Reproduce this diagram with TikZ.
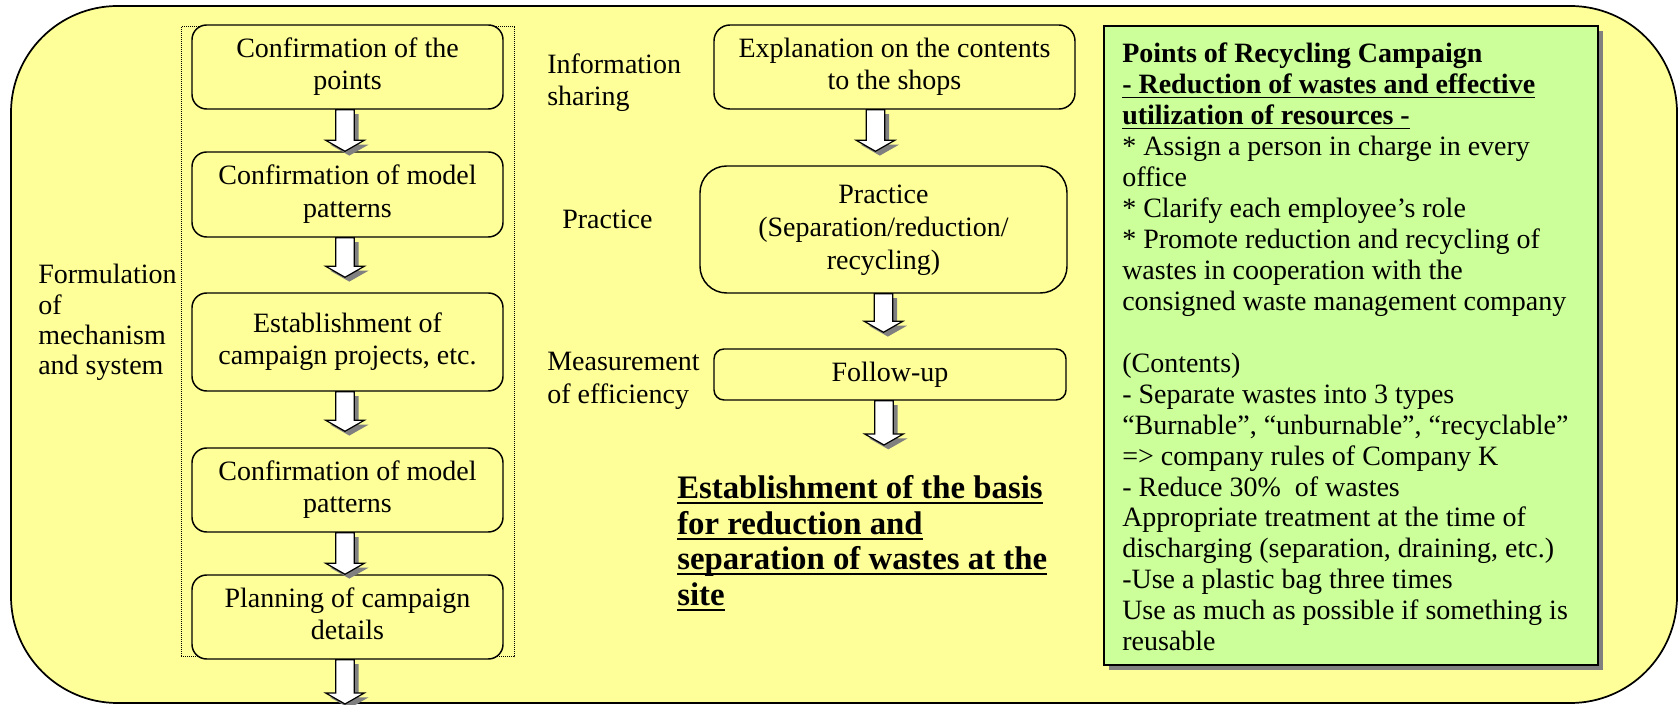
\documentclass[tikz,border=0pt]{standalone}
\usepackage{fontspec}
\setmainfont{Liberation Serif}
\usetikzlibrary{calc,shadows}

\definecolor{paleyellow}{RGB}{255,255,153}
\definecolor{palegreen}{RGB}{204,255,153}
\definecolor{shadowgray}{RGB}{128,128,128}

% multi-line text whose baseline is that of its first line
\newcommand\stack[2]{\begin{tabular}[t]{@{}#1@{}}#2\end{tabular}}
\newcommand\cstack[1]{\begin{tabular}{@{}c@{}}#1\end{tabular}}

% underline at a fixed depth below the baseline
\newdimen\ulpos \ulpos=2.5pt
\newdimen\ulthk \ulthk=1.4pt
\newcommand\uln[1]{\setbox0\hbox{#1}%
  \rlap{\vrule width \wd0 height -\ulpos depth \dimexpr\ulpos+\ulthk\relax}\box0}

% hollow block arrow with a grey drop shadow, from a start point down to a tip
\newcommand\blockarrow[2]{%
  \fill[shadowgray] let \p1=#1, \p2=#2 in
    (\x1-3.25pt,\y1-3.25pt) -- (\x1+10.25pt,\y1-3.25pt) -- (\x1+10.25pt,\y2+5pt)
    -- (\x1+17.75pt,\y2+5pt) -- (\x1+3.25pt,\y2-3.25pt) -- (\x1-11.25pt,\y2+5pt)
    -- (\x1-3.75pt,\y2+5pt) -- cycle;
  \filldraw[fill=white, draw=black, line width=0.9pt] let \p1=#1, \p2=#2 in
    (\x1-7pt,\y1) -- (\x1+7pt,\y1) -- (\x1+7pt,\y2+8.25pt) -- (\x1+14.5pt,\y2+8.25pt)
    -- (\x1,\y2) -- (\x1-14.5pt,\y2+8.25pt) -- (\x1-7pt,\y2+8.25pt) -- cycle;
}

\tikzset{
  stepbox/.style={draw=black, line width=1.1pt, fill=paleyellow, inner sep=0pt,
    rounded corners=11pt, font=\fontsize{21}{24.2}\selectfont},
  size/.style 2 args={minimum width=#1*0.75pt, minimum height=#2*0.75pt},
  label/.style={anchor=base west, inner sep=0pt, font=\fontsize{21}{24}\selectfont},
}

\begin{document}
\begin{tikzpicture}[x=0.75pt, y=-0.75pt]
\useasboundingbox (0,0) rectangle (1679,705);

% outer frame
\draw[fill=paleyellow, line width=1.3pt, rounded corners=80pt] (11,6) rectangle (1677,703);

% grouping frame of the left column
\draw[line width=0.75pt, dash pattern=on 0.75pt off 0.75pt] (181,27) rectangle (514,657);

% left column
\node[stepbox, size={311}{84}] (b1) at (347.5,67) {\cstack{Confirmation of the\\points}};
\node[stepbox, size={311}{85}] (b2) at (347.5,194.5) {\cstack{Confirmation of model\\patterns}};
\node[stepbox, size={311}{98}] (b3) at (347.5,342) {\cstack{Establishment of\\campaign projects, etc.}};
\node[stepbox, size={311}{84}] (b4) at (347.5,490) {\cstack{Confirmation of model\\patterns}};
\node[stepbox, size={311}{84}] (b5) at (347.5,617) {\cstack{Planning of campaign\\details}};
\coordinate (b5end) at (345,704);

\node[label, font=\fontsize{21}{22.7}\selectfont] (lform) at (38,284)
  {\stack{l}{Formulation\\of\\mechanism\\and system}};

% middle column
\node[stepbox, rounded corners=12pt, size={361}{84}] (m1) at (894.5,67)
  {\cstack{Explanation on the contents\\to the shops}};
\node[stepbox, rounded corners=20pt, size={367}{127}, font=\fontsize{21}{24.75}\selectfont] (m2)
  at (883.5,229.5) {\cstack{Practice\\(Separation/reduction/\\recycling)}};
\node[stepbox, rounded corners=7.5pt, size={352}{51}] (m3) at (890,374.5) {Follow-up};
\coordinate (m3end) at (884,445);

\node[label] (linfo) at (547,74) {\stack{l}{Information\\sharing}};
\node[label] (lprac) at (562,229) {Practice};
\node[label, font=\fontsize{21}{24.7}\selectfont] (lmeas) at (547,371)
  {\stack{l}{Measurement\\of efficiency}};

\node[label, font=\bfseries\fontsize{24.6}{26.6}\selectfont] (result) at (677,499)
  {\stack{l}{\uln{Establishment of the basis}\\
   \uln{for reduction and}\\ \uln{separation of wastes at the}\\ \uln{site}}};

% connectors
\blockarrow{($(b1.south)+(-2.5,0)$)}{(b2.north)}
\blockarrow{($(b2.south)+(-2.5,0)$)}{($(b3.north)+(0,-15)$)}
\blockarrow{($(b3.south)+(-2.5,0)$)}{($(b4.north)+(0,-16)$)}
\blockarrow{($(b4.south)+(-2.5,0)$)}{(b5.north)}
\blockarrow{($(b5.south)+(-2.5,0)$)}{(b5end)}
\blockarrow{($(m1.south)+(-19,0)$)}{($(m2.north)+(0,-14)$)}
\blockarrow{(m2.south)}{($(m3.north)+(0,-16)$)}
\blockarrow{($(m3.south)+(-6,0)$)}{(m3end)}

% campaign points
\node[draw=black, line width=1pt, fill=palegreen, inner sep=0pt, size={494}{639},
  drop shadow={shadow xshift=3.75pt, shadow yshift=-3.75pt, fill=shadowgray, opacity=1}]
  (pts) at (1351,345.5) {};
\node[label, font=\fontsize{21}{23.2}\selectfont] (ptstext) at (1122,63)
  {\ulpos=2.2pt\ulthk=1pt\stack{l}{\textbf{Points of Recycling Campaign}\\
   \textbf{\uln{- Reduction of wastes and effective}}\\
   \textbf{\uln{utilization of resources -}}\\
   {*} Assign a person in charge in every\\
   office\\
   {*} Clarify each employee’s role\\
   {*} Promote reduction and recycling of\\
   wastes in cooperation with the\\
   consigned waste management company\\
   ~\\
   (Contents)\\
   - Separate wastes into 3 types\\
   “Burnable”, “unburnable”, “recyclable”\\
   => company rules of Company K\\
   - Reduce 30\%\ \ of wastes\\
   Appropriate treatment at the time of\\
   discharging (separation, draining, etc.)\\
   -Use a plastic bag three times\\
   Use as much as possible if something is\\
   reusable}};
\end{tikzpicture}
\end{document}
